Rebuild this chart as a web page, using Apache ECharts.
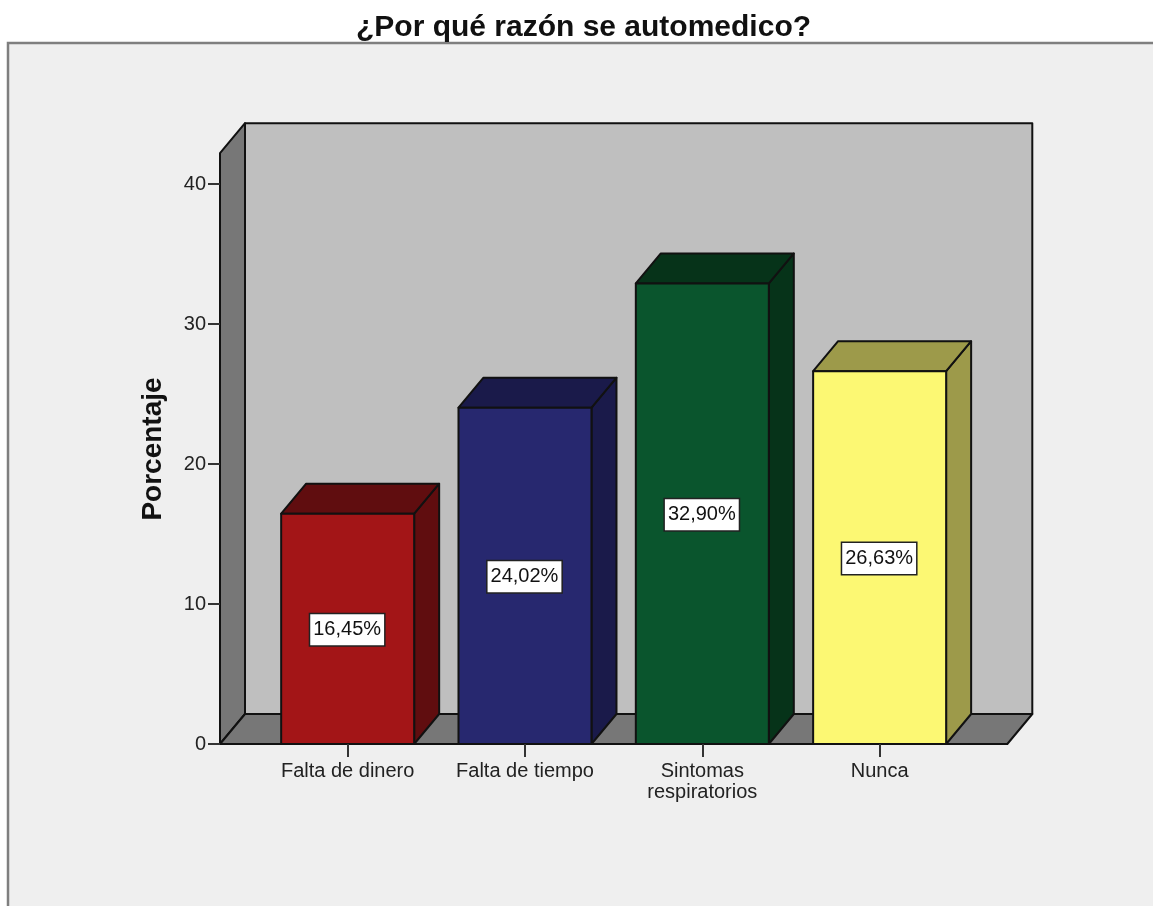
<!DOCTYPE html>
<html><head><meta charset="utf-8">
<style>html,body{margin:0;padding:0;background:#fff}#c{width:1153px;height:906px}</style>
<script src="https://cdn.jsdelivr.net/npm/echarts@6/dist/echarts.min.js"></script>
</head><body><div id="c"></div>
<script>
const categories = ['Falta de dinero','Falta de tiempo','Sintomas\nrespiratorios','Nunca'];
const percentages = [16.45,24.02,32.90,26.63];
const frontColors = ['#A31517','#27286F','#0A552D','#FCF873'];
const sideColors = ['#600D0F','#1A1A4A','#063319','#9D9A4A'];
const yTicks = {min:0,max:40,interval:10};
const wallTopValue = 42.2;

const DX = 25, DY = -30, SIDE = 39, FONT = '"Liberation Sans", Arial, sans-serif', INK='#111111';
const chart = echarts.init(document.getElementById('c'),null,{renderer:'canvas'});
const poly = (points,fill,z2) => ({type:'polygon',z2:z2||0,shape:{points},style:{fill,stroke:INK,lineWidth:2,lineJoin:'round'}});

function frame(params,api){
  const band = api.size([1,0])[0];
  const x0 = api.coord([0,0])[0]-band/2-SIDE;
  const x1 = api.coord([categories.length-1,0])[0]+band/2+SIDE;
  const y0 = api.coord([0,0])[1];
  const yT = api.coord([0,wallTopValue])[1];
  return {type:'group',children:[
    poly([[x0+DX,y0+DY],[x1+DX,y0+DY],[x1+DX,yT+DY],[x0+DX,yT+DY]],'#BFBFBF'),
    poly([[x0,y0],[x0+DX,y0+DY],[x0+DX,yT+DY],[x0,yT]],'#777777'),
    poly([[x0,y0],[x1,y0],[x1+DX,y0+DY],[x0+DX,y0+DY]],'#777777')
  ]};
}
function bar(params,api){
  const i = api.value(0), v = api.value(1);
  const w = api.size([1,0])[0]*0.75;
  const [cx,y0] = api.coord([i,0]);
  const yv = api.coord([i,v])[1];
  const l = cx-w/2, r = cx+w/2;
  const label = v.toFixed(2).replace('.',',')+'%';
  return {type:'group',children:[
    poly([[r,y0],[r+DX,y0+DY],[r+DX,yv+DY],[r,yv]],sideColors[i]),
    poly([[l,yv],[r,yv],[r+DX,yv+DY],[l+DX,yv+DY]],sideColors[i]),
    poly([[l,y0],[r,y0],[r,yv],[l,yv]],frontColors[i]),
    {type:'text',z2:10,style:{text:label,x:cx-0.5,y:(y0+yv)/2+1,align:'center',verticalAlign:'middle',
      font:'20px '+FONT,fill:'#111',backgroundColor:'#fff',borderColor:'#222',borderWidth:1.5,padding:[7,3,4,3]}}
  ]};
}
chart.setOption({
  animation:false,
  backgroundColor:'#ffffff',
  title:{text:'¿Por qué razón se automedico?',left:578.5,top:8,textAlign:'center',
    textStyle:{fontFamily:FONT,fontSize:30,fontWeight:'bold',color:'#111'}},
  graphic:[{type:'rect',z:-10,shape:{x:8,y:43,width:1200,height:900},style:{fill:'#EFEFEF',stroke:'#7f7f7f',lineWidth:2.5}}],
  grid:{left:259,width:709.3,top:184,height:560},
  xAxis:{type:'category',data:categories,
    axisLine:{show:true,lineStyle:{color:INK,width:2}},
    axisTick:{show:true,alignWithLabel:true,length:13,lineStyle:{color:'#333',width:2}},
    axisLabel:{interval:0,margin:17,fontFamily:FONT,fontSize:20,lineHeight:21,color:'#222'},z:5},
  yAxis:{type:'value',min:yTicks.min,max:yTicks.max,interval:yTicks.interval,offset:SIDE,
    name:'Porcentaje',nameLocation:'middle',nameGap:53,nameRotate:90,
    nameTextStyle:{fontFamily:FONT,fontSize:28,fontWeight:'bold',color:'#111',padding:[0,0,0,30]},
    axisLine:{show:true,lineStyle:{color:INK,width:2}},
    axisTick:{show:true,length:12,lineStyle:{color:'#333',width:2}},
    axisLabel:{margin:14,fontFamily:FONT,fontSize:20,color:'#222',padding:[3,0,0,0]},
    splitLine:{show:false},z:5},
  series:[
    {type:'custom',name:'frame',z:1,silent:true,clip:false,renderItem:frame,data:[[0,0]],encode:{x:0,y:1}},
    {type:'custom',name:'Porcentaje',z:2,clip:false,renderItem:bar,data:percentages.map((v,i)=>[i,v]),encode:{x:0,y:1}}
  ]
});
</script></body></html>
